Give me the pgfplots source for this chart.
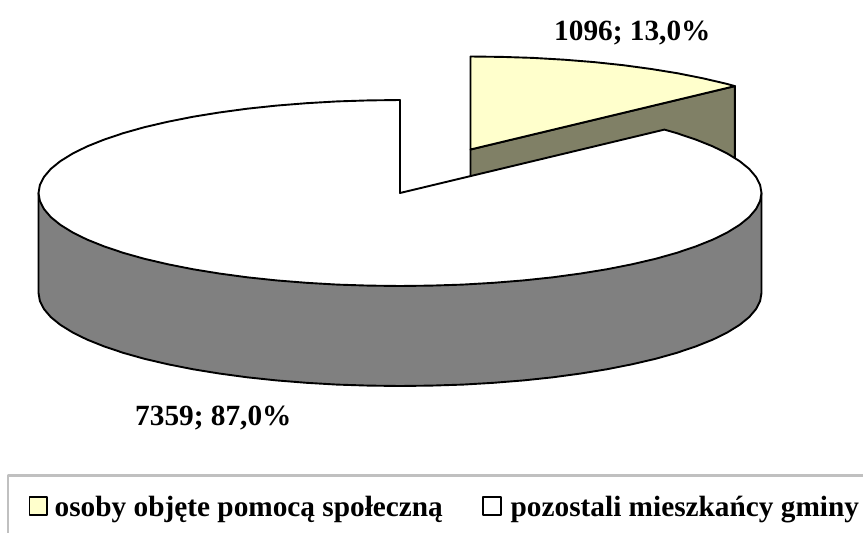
\documentclass[border=0pt]{standalone}
\usepackage{pgfplots}
\pgfplotsset{compat=1.18}
\usepackage{fontspec}
\setmainfont{Liberation Serif}
\definecolor{slicelight}{HTML}{FFFFCC}
\definecolor{slicedark}{HTML}{808066}
\definecolor{wallgray}{HTML}{808080}
\definecolor{framegray}{HTML}{C0C0C0}
\tikzset{txt/.style={anchor=base west, font=\bfseries\fontsize{29.3}{30}\selectfont, inner sep=0pt}}
\begin{document}
\begin{tikzpicture}
\begin{axis}[
    scale only axis,
    width=863pt, height=533pt,
    xmin=0, xmax=863, ymin=0, ymax=533,
    y dir=reverse,
    hide axis,
    clip=true,
    every axis plot/.append style={line width=1.9pt, line join=round, no markers},
]
\path (axis cs:0,0) rectangle (axis cs:863,533);
% exploded slice, side wall then top
\addplot[draw=black, fill=slicedark] coordinates {(470.5,149.5) (734.9,86.1) (734.9,186) (470.5,249.5)} -- cycle;
\addplot[draw=black, fill=slicelight] coordinates {
(470.5,149.5) (470.5,56.5) (502,56.9) (533.3,57.9) (564.1,59.7) (594.1,62.1) (623.3,65.2)
(651.3,69) (677.8,73.3) (702.9,78.3) (726.1,83.7) (734.9,86.1)} -- cycle;
% main pie wall
\addplot[draw=black, fill=wallgray] coordinates {
(38.5,193) (38.5,293) (39.9,301.1) (44,309.1) (50.8,317.1) (60.3,324.8) (72.4,332.3) (86.9,339.5)
(103.9,346.3) (123.1,352.8) (144.4,358.8) (167.6,364.2) (192.7,369.2) (219.2,373.5) (247.2,377.3)
(276.4,380.4) (306.4,382.8) (337.2,384.6) (368.5,385.6) (400,386) (431.5,385.6) (462.8,384.6)
(493.6,382.8) (523.6,380.4) (552.8,377.3) (580.8,373.5) (607.3,369.2) (632.4,364.2) (655.6,358.8)
(676.9,352.8) (696.1,346.3) (713.1,339.5) (727.6,332.3) (739.7,324.8) (749.2,317.1) (756,309.1)
(760.1,301.1) (761.5,293) (761.5,193)} -- cycle;
% main pie top
\addplot[draw=black, fill=white] coordinates {
(400,193) (400,100) (368.5,100.4) (337.2,101.4) (306.4,103.2) (276.4,105.6) (247.2,108.7) (219.2,112.5)
(192.7,116.8) (167.6,121.8) (144.4,127.2) (123.1,133.2) (103.9,139.7) (86.9,146.5) (72.4,153.7)
(60.3,161.2) (50.8,168.9) (44,176.9) (39.9,184.9) (38.5,193) (39.9,201.1) (44,209.1) (50.8,217.1)
(60.3,224.8) (72.4,232.3) (86.9,239.5) (103.9,246.3) (123.1,252.8) (144.4,258.8) (167.6,264.2)
(192.7,269.2) (219.2,273.5) (247.2,277.3) (276.4,280.4) (306.4,282.8) (337.2,284.6) (368.5,285.6)
(400,286) (431.5,285.6) (462.8,284.6) (493.6,282.8) (523.6,280.4) (552.8,277.3) (580.8,273.5)
(607.3,269.2) (632.4,264.2) (655.6,258.8) (676.9,252.8) (696.1,246.3) (713.1,239.5) (727.6,232.3)
(739.7,224.8) (749.2,217.1) (756,209.1) (760.1,201.1) (761.5,193) (760.1,184.9) (756,176.9)
(749.2,168.9) (739.7,161.2) (727.6,153.7) (713.1,146.5) (696.1,139.7) (676.9,133.2) (664.4,129.6)} -- cycle;
% legend frame and keys
\addplot[draw=framegray, line width=2.5pt] coordinates {(8,533) (8,475.5) (863,475.5)};
\addplot[draw=black, fill=slicelight] coordinates {(29.5,497) (47,497) (47,515) (29.5,515)} -- cycle;
\addplot[draw=black, fill=white] coordinates {(483,497) (501,497) (501,515) (483,515)} -- cycle;
\node[txt] at (axis cs:54.5,516) {osoby objęte pomocą społeczną};
\node[txt] at (axis cs:510.5,516) {pozostali mieszkańcy gminy};
\node[txt] at (axis cs:554,40) {1096; 13,0\%};
\node[txt] at (axis cs:135,425) {7359; 87,0\%};
\end{axis}
\end{tikzpicture}
\end{document}
